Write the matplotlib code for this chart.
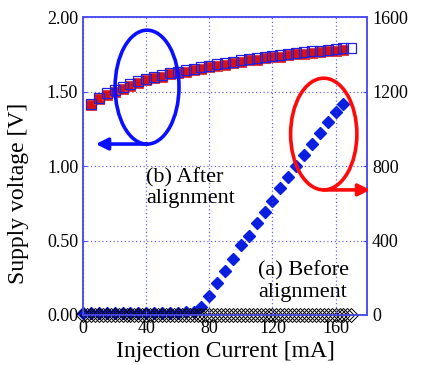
import matplotlib
matplotlib.use('Agg')
import matplotlib.pyplot as plt
from matplotlib.patches import Ellipse

plt.rcParams['font.family'] = ['Liberation Serif', 'DejaVu Serif']

# supply voltage [V] vs injection current [mA]
cur_v_after = [5, 10, 15, 20, 25, 30, 35, 40, 45, 50, 55, 60, 65, 70, 75, 80, 85,
               90, 95, 100, 105, 110, 115, 120, 125, 130, 135, 140, 145, 150, 155, 160, 165]
volt_after = [1.41, 1.45, 1.48, 1.50, 1.52, 1.54, 1.56, 1.575, 1.59, 1.60, 1.615, 1.625,
              1.635, 1.645, 1.655, 1.665, 1.675, 1.68, 1.69, 1.70, 1.71, 1.715, 1.725,
              1.73, 1.735, 1.745, 1.75, 1.755, 1.76, 1.765, 1.77, 1.775, 1.78]
cur_v_before = [5, 10, 15, 20, 25, 30, 35, 40, 45, 50, 55, 60, 65, 70, 75, 80, 85,
                90, 95, 100, 105, 110, 115, 120, 125, 130, 135, 140, 145, 150, 155, 160, 165, 170]
volt_before = [1.42, 1.46, 1.49, 1.51, 1.53, 1.55, 1.57, 1.585, 1.60, 1.61, 1.625, 1.635,
               1.645, 1.655, 1.665, 1.675, 1.685, 1.69, 1.70, 1.71, 1.72, 1.725, 1.735,
               1.74, 1.745, 1.755, 1.76, 1.765, 1.77, 1.775, 1.78, 1.785, 1.79, 1.795]

# output (right axis) vs injection current [mA]
cur_p_after = [0, 5, 10, 15, 20, 25, 30, 35, 40, 45, 50, 55, 60, 65, 70, 75, 80, 85,
               90, 95, 100, 105, 110, 115, 120, 125, 130, 135, 140, 145, 150, 155, 160, 165]
pow_after = [12, 12, 12, 12, 12, 12, 12, 12, 12, 12, 12, 12, 12, 14, 18, 45, 100, 170,
             235, 300, 375, 425, 495, 555, 615, 680, 740, 800, 860, 920, 980, 1035, 1090, 1135]
cur_p_before = [0, 2.5, 5, 7.5, 10, 12.5, 15, 17.5, 20, 22.5, 25, 27.5, 30, 32.5, 35, 37.5,
                40, 42.5, 45, 47.5, 50, 52.5, 55, 57.5, 60, 62.5, 65, 67.5, 70, 72.5, 75,
                77.5, 80, 82.5, 85, 87.5, 90, 92.5, 95, 97.5, 100, 102.5, 105, 107.5, 110,
                112.5, 115, 117.5, 120, 122.5, 125, 127.5, 130, 132.5, 135, 137.5, 140,
                142.5, 145, 147.5, 150, 152.5, 155, 157.5, 160, 162.5, 165, 167.5, 170]
pow_before = [0, 0, 0, 0, 0, 0, 0, 0, 0, 0, 0, 0, 0, 0, 0, 0, 0, 0, 0, 0, 0, 0, 0,
              0, 0, 0, 0, 0, 0, 0, 0, 0, 0, 0, 0, 0, 0, 0, 0, 0, 0, 0, 0, 0, 0, 0,
              0, 0, 0, 0, 0, 0, 0, 0, 0, 0, 0, 0, 0, 0, 0, 0, 0, 0, 0, 0, 0, 0, 0]

x_ticks = [0, 40, 80, 120, 160]
v_ticks = [0.0, 0.5, 1.0, 1.5, 2.0]
p_ticks = [0, 400, 800, 1200, 1600]

spine_col = '#5050ee'
grid_col = '#4040ee'

fig = plt.figure(figsize=(4.22, 3.65), dpi=100)
ax = fig.add_axes([0.197, 0.137, 0.673, 0.816])
ax2 = ax.twinx()

ax.set_xlim(0, 180)
ax.set_ylim(0, 2.0)
ax2.set_ylim(0, 1600)

ax.set_xticks(x_ticks)
ax.set_yticks(v_ticks)
ax.set_yticklabels(['%.2f' % v for v in v_ticks])
ax2.set_yticks(p_ticks)
ax.grid(True, color=grid_col, linestyle=(0, (1, 2)), linewidth=0.9, alpha=0.8)
ax.set_axisbelow(True)

for a in (ax, ax2):
    for s in a.spines.values():
        s.set_color(spine_col)
        s.set_linewidth(1.2)
    a.tick_params(direction='in', length=3, color=spine_col, labelsize=13)

# power curves (drawn on twin axis, kept behind the voltage axis)
ax2.set_zorder(ax.get_zorder() - 1)
ax.patch.set_visible(False)
ax2.patch.set_facecolor('white')
ax2.plot(cur_p_after, pow_after, linestyle='none', marker='D', markersize=6.5,
         markerfacecolor='#0a1ee0', markeredgecolor='#0a1ee0', zorder=3, clip_on=False)
ax2.plot(cur_p_before, pow_before, linestyle='none', marker='D', markersize=7,
         markerfacecolor='none', markeredgecolor='black', markeredgewidth=0.7,
         zorder=4, clip_on=False)

# voltage curves
ax.plot(cur_v_after, volt_after, linestyle='none', marker='s', markersize=6.5,
        markerfacecolor='#dd1010', markeredgecolor='#e04040', markeredgewidth=0.8, zorder=3)
ax.plot(cur_v_before, volt_before, linestyle='none', marker='s', markersize=7.5,
        markerfacecolor='none', markeredgecolor='#2020dd', markeredgewidth=0.9, zorder=4)

# annotations: ellipses with arrows
ax.add_patch(Ellipse((40.5, 1.53), 40.5, 0.765, fill=False, edgecolor='#0a10ff',
                     linewidth=2.6, zorder=5))
ax.annotate('', xy=(8, 1.148), xytext=(40.5, 1.148),
            arrowprops=dict(arrowstyle='-|>,head_length=0.7,head_width=0.35',
                            color='#0a10ff', lw=2.6, shrinkA=0, shrinkB=0), zorder=5)
ax.add_patch(Ellipse((152.5, 1.215), 42, 0.75, fill=False, edgecolor='#ff0a0a',
                     linewidth=2.6, zorder=5))
ax.annotate('', xy=(182, 0.84), xytext=(152.5, 0.84),
            arrowprops=dict(arrowstyle='-|>,head_length=0.7,head_width=0.35',
                            color='#ff0a0a', lw=2.6, shrinkA=0, shrinkB=0),
            annotation_clip=False, zorder=5)

ax.text(40, 0.99, '(b) After\nalignment', fontsize=16, va='top', ha='left',
        linespacing=1.15, zorder=6)
ax.text(111, 0.36, '(a) Before\nalignment', fontsize=16, va='top', ha='left',
        linespacing=1.15, zorder=6)

ax.set_xlabel('Injection Current [mA]', fontsize=17, labelpad=3)
ax.set_ylabel('Supply voltage [V]', fontsize=17)
ax.yaxis.set_label_coords(-0.19, 0.41)

fig.savefig('out.png', dpi=100)
